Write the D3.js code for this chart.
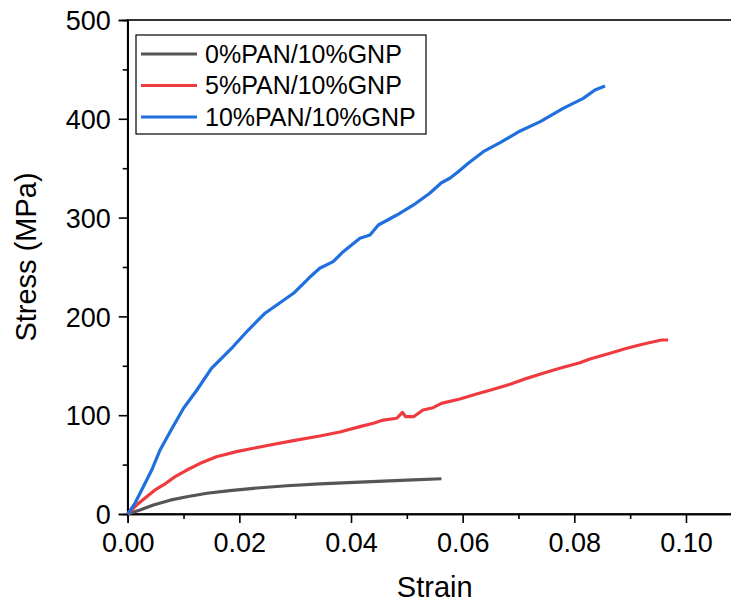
<!DOCTYPE html>
<html>
<head>
<meta charset="utf-8">
<script src="https://cdn.jsdelivr.net/npm/d3@7"></script>
<style>
  html, body { margin: 0; padding: 0; background: #fff; }
  svg { display: block; font-family: "Liberation Sans", Arial, sans-serif; }
</style>
</head>
<body>
<svg id="chart" width="731" height="604"></svg>
<script>
// Tensile stress–strain curves, [strain, stress (MPa)]
const pan0 = [
  [0.0000, 0.0], [0.0022, 4.0], [0.0046, 9.1], [0.0076, 14.0], [0.0106, 17.5],
  [0.0142, 21.0], [0.0183, 23.6], [0.0225, 26.0], [0.0285, 28.6], [0.0344, 30.5],
  [0.0416, 32.2], [0.0500, 34.3], [0.0562, 35.7]
];
const pan5 = [
  [0.0000, 0.0], [0.0016, 9.1], [0.0034, 17.5], [0.0049, 24.3], [0.0064, 29.4],
  [0.0085, 37.8], [0.0106, 44.5], [0.0130, 51.3], [0.0159, 58.0], [0.0195, 63.1],
  [0.0225, 66.5], [0.0255, 69.8], [0.0297, 74.2], [0.0344, 78.9], [0.0380, 83.0],
  [0.0416, 88.4], [0.0440, 91.8], [0.0458, 95.1], [0.0482, 96.9], [0.0492, 102.9],
  [0.0498, 98.5], [0.0512, 98.5], [0.0529, 105.3], [0.0547, 107.6], [0.0562, 112.0],
  [0.0595, 116.4], [0.0625, 121.5], [0.0655, 126.2], [0.0685, 131.3], [0.0715, 137.3],
  [0.0744, 142.4], [0.0774, 147.5], [0.0810, 153.1], [0.0828, 156.9], [0.0864, 162.7],
  [0.0894, 167.7], [0.0924, 172.1], [0.0956, 176.1], [0.0968, 176.1]
];
const pan10 = [
  [0.0000, 0.0], [0.0013, 10.8], [0.0028, 27.6], [0.0043, 44.5], [0.0058, 64.8],
  [0.0076, 83.3], [0.0100, 107.0], [0.0124, 125.5], [0.0150, 147.5], [0.0189, 169.5],
  [0.0216, 186.2], [0.0246, 203.2], [0.0297, 223.4], [0.0321, 236.8], [0.0327, 240.2],
  [0.0344, 248.7], [0.0368, 255.4], [0.0386, 265.5], [0.0416, 279.0], [0.0434, 282.4],
  [0.0449, 292.5], [0.0482, 302.6], [0.0512, 312.8], [0.0541, 324.6], [0.0562, 335.3],
  [0.0577, 339.8], [0.0592, 346.5], [0.0610, 355.0], [0.0637, 366.7], [0.0667, 375.8],
  [0.0703, 387.7], [0.0739, 397.1], [0.0780, 410.6], [0.0816, 420.7], [0.0837, 429.1],
  [0.0855, 433.2]
];

const seriesNames = ["0%PAN/10%GNP", "5%PAN/10%GNP", "10%PAN/10%GNP"];
const seriesColors = ["#555555", "#ef3b3f", "#1f6fdf"];
const xTicks = [0, 0.02, 0.04, 0.06, 0.08, 0.10];
const xMinorTicks = [0.01, 0.03, 0.05, 0.07, 0.09, 0.11];
const yTicks = [0, 100, 200, 300, 400, 500];
const yMinorTicks = [50, 150, 250, 350, 450];

const svg = d3.select("#chart");
const plotLeft = 127.7, plotRight = 741.8, plotTop = 20, plotBottom = 514;

const x = d3.scaleLinear().domain([0, 0.11]).range([plotLeft, plotRight]);
const y = d3.scaleLinear().domain([0, 500]).range([plotBottom, plotTop]);

const tickFont = 27, titleFont = 29, legendFont = 25;

// plot frame
svg.append("rect")
  .attr("x", plotLeft).attr("y", plotTop)
  .attr("width", plotRight - plotLeft).attr("height", plotBottom - plotTop)
  .attr("fill", "none").attr("stroke", "#000").attr("stroke-width", 1.6);

// x axis
const xAxis = svg.append("g").attr("transform", `translate(0,${plotBottom})`)
  .call(d3.axisBottom(x).tickValues(xTicks).tickSize(9).tickPadding(9)
    .tickFormat(d3.format(".2f")));
const xMinor = svg.append("g").attr("transform", `translate(0,${plotBottom})`)
  .call(d3.axisBottom(x).tickValues(xMinorTicks).tickSize(5).tickFormat(""));

// y axis
const yAxis = svg.append("g").attr("transform", `translate(${plotLeft},0)`)
  .call(d3.axisLeft(y).tickValues(yTicks).tickSize(9).tickPadding(8)
    .tickFormat(d3.format("d")));
const yMinor = svg.append("g").attr("transform", `translate(${plotLeft},0)`)
  .call(d3.axisLeft(y).tickValues(yMinorTicks).tickSize(5).tickFormat(""));

[xAxis, xMinor, yAxis, yMinor].forEach(g => {
  g.select(".domain").attr("stroke", "#000").attr("stroke-width", 1.6);
  g.selectAll(".tick line").attr("stroke", "#000").attr("stroke-width", 1.6);
  g.selectAll("text").attr("fill", "#000")
    .style("font-family", '"Liberation Sans", Arial, sans-serif')
    .style("font-size", tickFont + "px");
});
xAxis.selectAll("text").attr("dy", null).attr("y", 38);
yAxis.selectAll("text").attr("dy", null).attr("y", 9.7);

// axis titles
svg.append("text")
  .attr("x", (plotLeft + plotRight) / 2).attr("y", 597)
  .attr("text-anchor", "middle")
  .style("font-size", titleFont + "px")
  .text("Strain");
svg.append("text")
  .attr("transform", `translate(36,257) rotate(-90)`)
  .attr("text-anchor", "middle")
  .style("font-size", titleFont + "px")
  .text("Stress (MPa)");

// curves
const line = d3.line().x(d => x(d[0])).y(d => y(d[1]));
[pan0, pan5, pan10].forEach((data, i) => {
  svg.append("path")
    .datum(data)
    .attr("d", line)
    .attr("fill", "none")
    .attr("stroke", seriesColors[i])
    .attr("stroke-width", 3.2)
    .attr("stroke-linejoin", "round")
    .attr("stroke-linecap", "butt");
});

// legend
const legend = svg.append("g");
legend.append("rect")
  .attr("x", 136).attr("y", 35).attr("width", 290).attr("height", 99)
  .attr("fill", "#fff").attr("stroke", "#000").attr("stroke-width", 1.2);
const rowY = [54, 85.5, 117];
seriesNames.forEach((name, i) => {
  legend.append("line")
    .attr("x1", 141).attr("x2", 197)
    .attr("y1", rowY[i]).attr("y2", rowY[i])
    .attr("stroke", seriesColors[i]).attr("stroke-width", 3.2);
  legend.append("text")
    .attr("x", 205).attr("y", rowY[i] + 0.358 * legendFont)
    .style("font-size", legendFont + "px")
    .text(name);
});
</script>
</body>
</html>
